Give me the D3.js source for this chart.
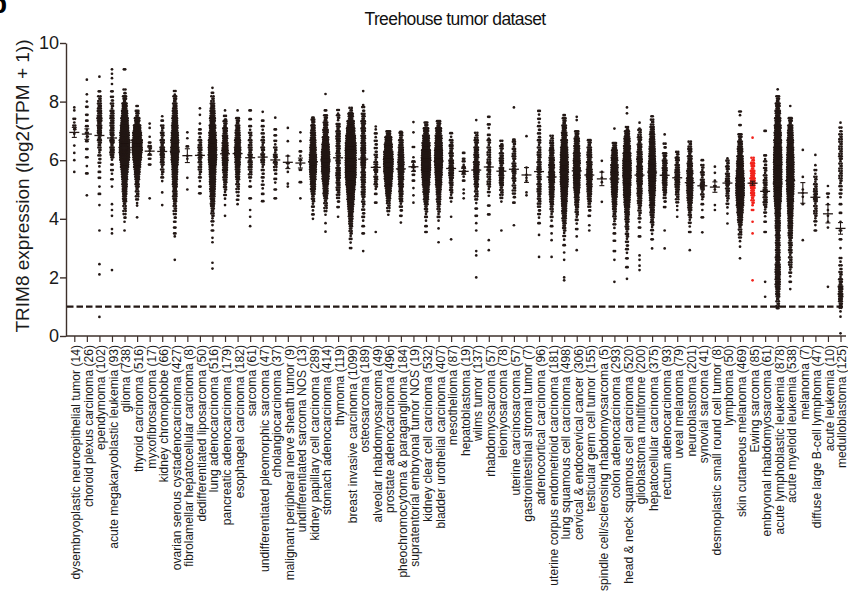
<!DOCTYPE html>
<html lang="en">
<head>
<meta charset="utf-8">
<title>Treehouse tumor dataset</title>
<script src="https://d3js.org/d3.v7.min.js"></script>
<style>
  body { margin: 0; background: #fff; }
  svg { display: block; font-family: "Liberation Sans", Arial, sans-serif; }
</style>
</head>
<body>
<svg id="chart" width="848" height="591"></svg>
<script>
// categories, in plot order (sample size in brackets)
const labels = [
  "dysembryoplastic neuroepithelial tumor (14)", "choroid plexus carcinoma (26)", "ependymoma (102)",
  "acute megakaryoblastic leukemia (93)", "glioma (738)", "thyroid carcinoma (516)", "myxofibrosarcoma (17)",
  "kidney chromophobe (66)", "ovarian serous cystadenocarcinoma (427)", "fibrolamellar hepatocellular carcinoma (8)",
  "dedifferentiated liposarcoma (50)", "lung adenocarcinoma (516)", "pancreatic adenocarcinoma (179)",
  "esophageal carcinoma (182)", "sarcoma (61)", "undifferentiated pleomorphic sarcoma (47)", "cholangiocarcinoma (37)",
  "malignant peripheral nerve sheath tumor (9)", "undifferentiated sarcoma NOS (13)", "kidney papillary cell carcinoma (289)",
  "stomach adenocarcinoma (414)", "thymoma (119)", "breast invasive carcinoma (1099)", "osteosarcoma (189)",
  "alveolar rhabdomyosarcoma (49)", "prostate adenocarcinoma (496)", "pheochromocytoma & paraganglioma (184)",
  "supratentorial embryonal tumor NOS (19)", "kidney clear cell carcinoma (532)", "bladder urothelial carcinoma (407)",
  "mesothelioma (87)", "hepatoblastoma (19)", "wilms tumor (137)", "rhabdomyosarcoma (57)", "leiomyosarcoma (78)",
  "uterine carcinosarcoma (57)", "gastrointestinal stromal tumor (7)", "adrenocortical carcinoma (96)",
  "uterine corpus endometrioid carcinoma (181)", "lung squamous cell carcinoma (498)", "cervical & endocervical cancer (306)",
  "testicular germ cell tumor (155)", "spindle cell/sclerosing rhabdomyosarcoma (5)", "colon adenocarcinoma (293)",
  "head & neck squamous cell carcinoma (520)", "glioblastoma multiforme (200)", "hepatocellular carcinoma (375)",
  "rectum adenocarcinoma (93)", "uveal melanoma (79)", "neuroblastoma (201)", "synovial sarcoma (41)",
  "desmoplastic small round cell tumor (8)", "lymphoma (50)", "skin cutaneous melanoma (469)", "Ewing sarcoma (85)",
  "embryonal rhabdomyosarcoma (61)", "acute lymphoblastic leukemia (878)", "acute myeloid leukemia (538)",
  "melanoma (7)", "diffuse large B-cell lymphoma (47)", "acute leukemia (10)", "medulloblastoma (125)"
];

// expression: [value, number of samples near that value]
const dotBins = [
  [[5.6,1],[6.0,1],[6.25,1],[6.5,1],[6.9,1],[7.12,4],[7.35,3],[7.7,1],[7.8,1]],
  [[4.8,1],[5.55,2],[5.8,1],[6.1,2],[6.38,2],[6.65,2],[6.87,4],[7.1,3],[7.35,2],[7.55,2],[7.82,2],[8.0,1],[8.25,1],[8.75,1]],
  [[0.65,1],[2.1,1],[2.45,1],[3.6,1],[4.47,1],[4.85,2],[5.1,1],[5.4,2],[5.6,2],[5.85,3],[6.1,4],[6.35,5],[6.6,8],[6.85,10],[7.1,14],[7.35,16],[7.6,12],[7.85,9],[8.1,6],[8.35,2],[8.85,1]],
  [[2.25,1],[3.5,1],[3.65,1],[4.1,1],[4.3,1],[4.5,1],[5.1,1],[5.35,2],[5.6,3],[5.85,2],[6.1,7],[6.35,12],[6.6,10],[6.85,8],[7.1,9],[7.35,9],[7.6,9],[7.85,5],[8.1,4],[8.35,2],[8.6,1],[8.8,1],[8.95,1],[9.1,1]],
  [[3.6,1],[3.9,1],[4.1,4],[4.35,6],[4.6,10],[4.85,14],[5.1,20],[5.35,28],[5.6,40],[5.85,60],[6.1,92],[6.35,108],[6.6,103],[6.85,80],[7.1,60],[7.35,45],[7.6,30],[7.85,20],[8.1,10],[8.35,4],[9.1,2]],
  [[4.05,1],[4.45,1],[4.6,3],[4.85,6],[5.1,10],[5.35,16],[5.6,26],[5.85,42],[6.1,70],[6.35,97],[6.6,97],[6.85,70],[7.1,45],[7.35,22],[7.6,8],[7.85,2]],
  [[4.7,1],[5.85,2],[6.05,2],[6.2,2],[6.4,5],[6.6,2],[6.8,1],[7.1,1],[7.25,1]],
  [[4.47,1],[4.9,1],[5.35,3],[5.6,5],[5.85,7],[6.1,11],[6.35,13],[6.6,10],[6.85,7],[7.1,5],[7.35,2],[7.5,1]],
  [[2.6,1],[3.4,1],[3.5,2],[3.7,2],[3.9,2],[4.1,4],[4.35,6],[4.6,8],[4.85,12],[5.1,16],[5.35,20],[5.6,26],[5.85,34],[6.1,45],[6.35,57],[6.6,52],[6.85,42],[7.1,32],[7.35,24],[7.6,18],[7.85,12],[8.1,8],[8.3,3]],
  [[5.0,1],[5.4,1],[6.05,1],[6.15,1],[6.47,2],[6.75,1],[6.95,1]],
  [[4.87,2],[5.1,2],[5.35,3],[5.6,5],[5.85,6],[6.1,8],[6.35,10],[6.6,6],[6.85,3],[7.05,2],[7.25,1],[7.55,1],[7.77,1]],
  [[2.3,1],[2.5,1],[3.2,1],[3.35,1],[3.6,2],[3.85,3],[4.1,5],[4.35,8],[4.6,12],[4.85,18],[5.1,24],[5.35,30],[5.6,38],[5.85,49],[6.1,60],[6.35,64],[6.6,57],[6.85,44],[7.1,34],[7.35,25],[7.6,18],[7.85,12],[8.1,6],[8.3,2],[8.47,1]],
  [[4.1,1],[4.47,1],[4.75,3],[5.0,5],[5.25,8],[5.5,12],[5.75,18],[6.0,26],[6.25,31],[6.5,27],[6.75,20],[7.0,14],[7.25,8],[7.45,4],[7.7,1]],
  [[4.5,1],[4.65,2],[4.85,4],[5.1,6],[5.35,10],[5.6,14],[5.85,20],[6.1,28],[6.35,32],[6.6,26],[6.85,18],[7.1,12],[7.35,8],[7.7,1]],
  [[3.75,1],[4.07,1],[4.3,1],[4.7,2],[5.1,2],[5.35,3],[5.6,6],[5.85,9],[6.1,10],[6.35,8],[6.6,6],[6.85,5],[7.1,3],[7.4,2],[7.7,2]],
  [[4.6,2],[4.85,2],[5.1,3],[5.35,3],[5.6,4],[5.85,5],[6.1,6],[6.35,7],[6.6,5],[6.85,4],[7.1,3],[7.35,2],[7.65,1]],
  [[4.7,2],[5.0,2],[5.3,3],[5.6,4],[5.85,6],[6.1,7],[6.35,5],[6.6,3],[6.85,2],[7.05,2],[7.45,1]],
  [[5.1,1],[5.2,1],[5.6,1],[5.75,1],[5.9,2],[6.15,1],[6.65,1],[7.1,1]],
  [[4.7,1],[5.25,2],[5.67,2],[5.85,1],[6.0,2],[6.15,1],[6.3,2],[6.65,1],[6.95,1]],
  [[4.0,1],[4.15,2],[4.35,3],[4.6,5],[4.85,10],[5.1,18],[5.35,28],[5.6,40],[5.85,44],[6.1,42],[6.35,32],[6.6,24],[6.85,18],[7.1,12],[7.3,8],[7.45,2]],
  [[3.56,1],[3.85,1],[4.2,3],[4.45,6],[4.7,10],[4.95,18],[5.2,28],[5.45,42],[5.7,57],[5.95,64],[6.2,60],[6.45,45],[6.7,32],[6.95,22],[7.2,14],[7.45,8],[7.7,2],[8.26,1]],
  [[4.07,1],[4.4,2],[4.65,4],[4.9,6],[5.15,9],[5.4,13],[5.65,12],[5.9,10],[6.15,10],[6.4,11],[6.65,11],[6.9,12],[7.15,10],[7.45,5],[7.65,3]],
  [[3.0,2],[3.25,3],[3.5,5],[3.75,8],[4.0,14],[4.25,22],[4.5,32],[4.75,45],[5.0,64],[5.25,84],[5.5,110],[5.75,125],[6.0,132],[6.25,127],[6.5,108],[6.75,86],[7.0,62],[7.25,42],[7.5,22],[7.7,6]],
  [[2.9,1],[3.5,2],[3.75,2],[4.0,3],[4.25,4],[4.5,5],[4.75,7],[5.0,9],[5.25,11],[5.5,12],[5.75,13],[6.0,15],[6.25,16],[6.5,15],[6.75,14],[7.0,13],[7.25,13],[7.5,8],[7.75,4],[7.88,1],[8.36,1]],
  [[3.55,1],[4.55,2],[4.85,2],[5.1,5],[5.35,8],[5.6,7],[5.85,6],[6.1,5],[6.35,4],[6.6,4],[6.85,3],[7.05,1],[7.15,1]],
  [[4.2,3],[4.45,6],[4.7,14],[4.95,26],[5.2,42],[5.45,60],[5.7,78],[5.95,84],[6.2,75],[6.45,55],[6.7,38],[6.9,15]],
  [[3.87,1],[4.1,2],[4.35,4],[4.6,7],[4.85,11],[5.1,16],[5.35,22],[5.6,28],[5.85,29],[6.1,24],[6.35,18],[6.6,12],[6.85,8],[6.97,2]],
  [[4.55,1],[4.8,1],[5.05,1],[5.3,2],[5.5,2],[5.7,4],[5.9,3],[6.1,1],[6.45,2],[6.95,1],[7.3,1]],
  [[3.55,2],[3.75,2],[4.0,3],[4.25,5],[4.5,10],[4.75,18],[5.0,30],[5.25,45],[5.5,62],[5.75,78],[6.0,82],[6.25,72],[6.5,55],[6.75,38],[7.0,22],[7.2,8]],
  [[3.2,1],[3.67,1],[4.0,3],[4.25,5],[4.5,8],[4.75,12],[5.0,20],[5.25,30],[5.5,43],[5.75,52],[6.0,56],[6.25,54],[6.5,45],[6.75,38],[7.0,28],[7.25,11]],
  [[3.3,1],[4.07,1],[4.65,3],[4.9,5],[5.15,8],[5.4,13],[5.65,15],[5.9,14],[6.15,10],[6.4,8],[6.6,6],[6.86,3]],
  [[4.7,1],[4.87,1],[5.0,1],[5.3,2],[5.5,3],[5.7,4],[5.9,3],[6.05,2],[6.25,2]],
  [[2.0,1],[2.75,1],[2.9,1],[3.6,1],[3.85,1],[4.1,2],[4.35,2],[4.6,3],[4.85,6],[5.1,10],[5.35,16],[5.6,23],[5.85,23],[6.1,16],[6.35,14],[6.6,10],[6.85,6],[7.37,1]],
  [[2.93,1],[3.27,1],[4.15,2],[4.45,2],[4.85,3],[5.1,5],[5.35,6],[5.6,6],[5.85,6],[6.1,6],[6.35,6],[6.6,5],[6.8,3],[7.16,3],[7.48,2]],
  [[3.6,1],[4.65,3],[4.9,6],[5.15,10],[5.4,14],[5.65,14],[5.9,10],[6.15,9],[6.4,7],[6.6,4]],
  [[3.78,1],[4.55,2],[4.8,4],[5.05,6],[5.3,7],[5.55,8],[5.8,8],[6.05,7],[6.3,6],[6.55,5],[6.7,2],[7.8,1]],
  [[4.8,1],[4.9,1],[5.3,1],[5.4,1],[5.5,1],[5.75,1],[6.82,1]],
  [[2.7,1],[3.45,1],[3.85,2],[4.1,3],[4.35,4],[4.6,6],[4.85,8],[5.1,9],[5.35,10],[5.6,10],[5.85,9],[6.1,8],[6.35,6],[6.6,5],[6.85,4],[7.1,4],[7.35,3],[7.62,3]],
  [[2.7,1],[3.27,1],[3.5,1],[3.75,2],[4.0,3],[4.25,5],[4.5,8],[4.75,14],[5.0,20],[5.25,25],[5.5,27],[5.75,25],[6.0,20],[6.25,14],[6.5,9],[6.75,6]],
  [[1.9,1],[2.0,1],[2.6,1],[2.85,1],[3.1,2],[3.35,3],[3.6,5],[3.85,8],[4.1,12],[4.35,18],[4.6,26],[4.85,35],[5.1,46],[5.35,54],[5.6,58],[5.85,57],[6.1,50],[6.35,42],[6.6,32],[6.85,22],[7.1,14],[7.35,8],[7.54,2]],
  [[2.93,1],[3.4,1],[3.65,2],[3.9,3],[4.15,5],[4.4,8],[4.65,14],[4.9,22],[5.15,33],[5.4,40],[5.65,43],[5.9,40],[6.15,35],[6.4,26],[6.65,20],[6.9,11],[7.37,1],[7.48,1]],
  [[3.6,1],[3.78,1],[4.1,2],[4.35,4],[4.6,8],[4.85,14],[5.1,20],[5.35,25],[5.6,24],[5.85,20],[6.1,16],[6.35,12],[6.6,8]],
  [[4.58,1],[5.25,1],[5.4,1],[5.6,1],[5.98,1]],
  [[1.85,1],[2.6,1],[2.9,2],[3.25,2],[3.5,2],[3.75,3],[4.0,5],[4.25,8],[4.5,14],[4.75,22],[5.0,32],[5.25,40],[5.5,46],[5.75,44],[6.0,34],[6.25,24],[6.5,12],[7.08,1]],
  [[1.95,1],[2.35,2],[2.65,2],[2.9,3],[3.15,4],[3.4,5],[3.65,7],[3.9,10],[4.15,14],[4.4,22],[4.65,32],[4.9,42],[5.15,52],[5.4,58],[5.65,62],[5.9,60],[6.15,50],[6.4,40],[6.65,29],[6.9,18],[7.05,5],[7.6,1],[7.8,1]],
  [[2.25,1],[2.4,1],[2.6,1],[2.75,1],[3.4,2],[3.7,2],[3.95,3],[4.2,5],[4.45,8],[4.7,12],[4.95,18],[5.2,22],[5.45,26],[5.7,26],[5.95,22],[6.2,18],[6.45,14],[6.7,10],[6.95,6],[7.08,1],[7.28,1]],
  [[2.99,1],[3.3,2],[3.55,3],[3.8,5],[4.05,8],[4.3,12],[4.55,18],[4.8,26],[5.05,36],[5.3,43],[5.55,48],[5.8,45],[6.05,36],[6.3,30],[6.55,24],[6.8,18],[7.05,12],[7.3,6],[7.5,2]],
  [[2.99,1],[3.6,1],[4.4,2],[4.65,4],[4.9,8],[5.15,14],[5.4,17],[5.65,17],[5.9,14],[6.15,10],[6.5,4],[6.88,1]],
  [[4.07,1],[4.3,1],[4.5,3],[4.75,6],[5.0,11],[5.25,15],[5.5,15],[5.75,12],[6.0,10],[6.2,5]],
  [[2.93,1],[3.55,2],[3.8,3],[4.05,5],[4.3,10],[4.55,16],[4.8,24],[5.05,30],[5.3,32],[5.55,28],[5.8,20],[6.05,14],[6.3,10],[6.55,6]],
  [[3.54,1],[4.05,2],[4.3,1],[4.5,2],[4.75,5],[5.0,7],[5.25,9],[5.5,7],[5.75,5],[6.0,2]],
  [[4.3,1],[4.47,1],[5.0,1],[5.12,2],[5.3,1],[5.57,1],[5.78,1]],
  [[3.84,1],[4.18,1],[4.45,3],[4.7,5],[4.95,8],[5.2,10],[5.45,9],[5.7,7],[5.9,5],[6.06,1]],
  [[2.65,1],[3.05,1],[3.3,3],[3.55,6],[3.8,10],[4.05,18],[4.3,30],[4.55,45],[4.8,61],[5.05,65],[5.3,61],[5.55,48],[5.8,38],[6.05,30],[6.3,22],[6.55,15],[6.8,10],[7.2,2],[7.6,3]],
  [[1.9,1],[3.5,1],[3.9,1],[4.3,2],[4.55,5],[4.8,10],[5.05,16],[5.3,18],[5.55,14],[5.8,10],[6.0,6],[6.77,1]],
  [[1.34,1],[1.85,1],[3.55,2],[3.9,2],[4.15,3],[4.4,5],[4.65,9],[4.9,10],[5.15,8],[5.4,6],[5.65,5],[5.9,4],[6.1,3],[7.0,2]],
  [[0.95,2],[1.1,6],[1.35,10],[1.6,14],[1.85,18],[2.1,20],[2.35,18],[2.6,16],[2.85,14],[3.1,14],[3.35,14],[3.6,16],[3.85,18],[4.1,22],[4.35,28],[4.6,40],[4.85,48],[5.1,56],[5.35,60],[5.6,62],[5.85,62],[6.1,60],[6.35,56],[6.6,49],[6.85,43],[7.1,37],[7.35,28],[7.6,22],[7.85,16],[8.1,8],[8.42,1]],
  [[1.6,1],[1.85,2],[2.1,3],[2.35,5],[2.6,6],[2.85,7],[3.1,8],[3.35,10],[3.6,12],[3.85,15],[4.1,20],[4.35,26],[4.6,34],[4.85,40],[5.1,45],[5.35,47],[5.6,47],[5.85,45],[6.1,42],[6.35,38],[6.6,32],[6.85,24],[7.1,18],[7.35,10],[7.85,1]],
  [[3.27,1],[4.5,1],[4.75,1],[4.88,1],[5.0,1],[5.43,1],[6.35,1]],
  [[3.6,2],[3.85,3],[4.1,5],[4.35,6],[4.6,7],[4.85,8],[5.1,6],[5.35,5],[5.6,3],[5.83,1],[6.18,1]],
  [[1.68,1],[3.7,1],[3.9,1],[4.1,1],[4.3,1],[4.5,1],[4.8,3],[5.12,1]],
  [[0.09,1],[0.66,1],[0.9,3],[1.1,8],[1.35,14],[1.6,14],[1.85,8],[2.1,5],[2.35,4],[2.6,3],[3.0,1],[3.3,2],[3.6,2],[3.9,1],[4.2,2],[4.5,2],[4.8,3],[5.05,4],[5.3,5],[5.55,6],[5.8,6],[6.05,7],[6.3,6],[6.55,6],[6.8,6],[7.05,4],[7.28,1]]
];

const highlightLabel = "Ewing sarcoma (85)";
const yTicks = [0, 2, 4, 6, 8, 10];
const cutoffValue = 1;
const binStep = 0.25;

const ink = "#231815";
const red = "#f2231c";

const svg = d3.select("#chart");

const x = d3.scalePoint().domain(labels).range([74.3, 840.5]);
const y = d3.scaleLinear().domain([0, 10]).range([336, 43]);
const binPx = Math.abs(y(binStep) - y(0));

// panel letter, cut by the page edge
svg.append("text")
  .attr("x", -10).attr("y", 13)
  .attr("font-size", 28).attr("font-weight", "bold")
  .attr("fill", "#000")
  .text("b");

svg.append("text")
  .attr("x", 455).attr("y", 25)
  .attr("text-anchor", "middle")
  .attr("font-size", 17.5)
  .attr("letter-spacing", "-0.6")
  .attr("fill", "#111")
  .text("Treehouse tumor dataset");

// y axis
const yAxis = svg.append("g")
  .attr("transform", "translate(66,0)")
  .call(d3.axisLeft(y).tickValues(yTicks).tickSize(6).tickSizeOuter(0).tickPadding(1));
yAxis.select(".domain").attr("stroke", "#3d302b").attr("stroke-width", 1.4);
yAxis.selectAll(".tick line").attr("stroke", "#3d302b").attr("stroke-width", 1.4);
yAxis.selectAll(".tick text")
  .attr("font-size", 18).attr("fill", "#1a1a1a")
  .attr("font-family", "Liberation Sans, Arial, sans-serif");

svg.append("text")
  .attr("transform", "translate(29,186) rotate(-90)")
  .attr("text-anchor", "middle")
  .attr("font-size", 19)
  .attr("fill", "#1a1a1a")
  .text("TRIM8 expression (log2(TPM + 1))");

// x axis
const xAxis = svg.append("g")
  .attr("transform", "translate(0,336)")
  .call(d3.axisBottom(x).tickSize(6).tickSizeOuter(0));
xAxis.select(".domain").remove();
svg.append("line")
  .attr("x1", 66).attr("x2", 846).attr("y1", 336).attr("y2", 336)
  .attr("stroke", "#3d302b").attr("stroke-width", 1.4);
xAxis.selectAll(".tick line").attr("stroke", "#3d302b").attr("stroke-width", 1.2);
xAxis.selectAll(".tick text")
  .attr("font-size", 12.1)
  .attr("fill", "#1a1a1a")
  .attr("font-family", "Liberation Sans, Arial, sans-serif")
  .attr("text-anchor", "end")
  .attr("transform", "translate(0,9) rotate(-90)")
  .attr("x", 0).attr("y", 0).attr("dy", "0.45em");

// cutoff line
svg.append("line")
  .attr("x1", 67).attr("x2", 846)
  .attr("y1", y(cutoffValue)).attr("y2", y(cutoffValue))
  .attr("stroke", ink).attr("stroke-width", 2.2)
  .attr("stroke-dasharray", "6.5,3");

// place the samples of each bin in up to 3 rows, width growing with the count
function layout(bins) {
  const pts = [];
  bins.forEach(([v, c]) => {
    const rows = c <= 2 ? 1 : (c <= 4 ? 2 : 3);
    const perRow = Math.ceil(c / rows);
    const w = perRow > 1 ? Math.min((perRow - 1) * 2.5, 0.9 * Math.sqrt(c), 9.5) : 0;
    const step = perRow > 1 ? w / (perRow - 1) : 0;
    let left = c;
    for (let r = 0; r < rows; r++) {
      const k = Math.min(perRow, left);
      left -= k;
      const dy = rows > 1 ? (r - (rows - 1) / 2) * binPx / rows : 0;
      const shift = (r % 2 === 1 && k > 1) ? step / 2 : 0;
      for (let j = 0; j < k; j++) {
        pts.push({ v: v, dx: (j - (k - 1) / 2) * step + shift * (j < k - 1 ? 1 : 0), dy: dy });
      }
    }
  });
  return pts;
}

const dotsG = svg.append("g");
const barsG = svg.append("g");

labels.forEach((lab, i) => {
  const bins = dotBins[i];
  const cx = x(lab);
  const col = lab === highlightLabel ? red : ink;

  dotsG.append("g").selectAll("circle")
    .data(layout(bins))
    .join("circle")
    .attr("cx", d => cx + d.dx)
    .attr("cy", d => y(d.v) + d.dy)
    .attr("r", 1.35)
    .attr("fill", col);

  // mean +/- SEM
  const n = d3.sum(bins, d => d[1]);
  const mean = d3.sum(bins, d => d[0] * d[1]) / n;
  const ss = d3.sum(bins, d => d[1] * (d[0] - mean) * (d[0] - mean));
  const sem = n > 1 ? Math.sqrt(ss / (n - 1)) / Math.sqrt(n) : 0;

  barsG.append("line")
    .attr("x1", cx - 5).attr("x2", cx + 5)
    .attr("y1", y(mean)).attr("y2", y(mean))
    .attr("stroke", ink).attr("stroke-width", 1.3);
  barsG.append("line")
    .attr("x1", cx).attr("x2", cx)
    .attr("y1", y(mean - sem)).attr("y2", y(mean + sem))
    .attr("stroke", ink).attr("stroke-width", 1.1);
  [mean - sem, mean + sem].forEach(v => {
    barsG.append("line")
      .attr("x1", cx - 2.5).attr("x2", cx + 2.5)
      .attr("y1", y(v)).attr("y2", y(v))
      .attr("stroke", ink).attr("stroke-width", 1.1);
  });
});
</script>
</body>
</html>
